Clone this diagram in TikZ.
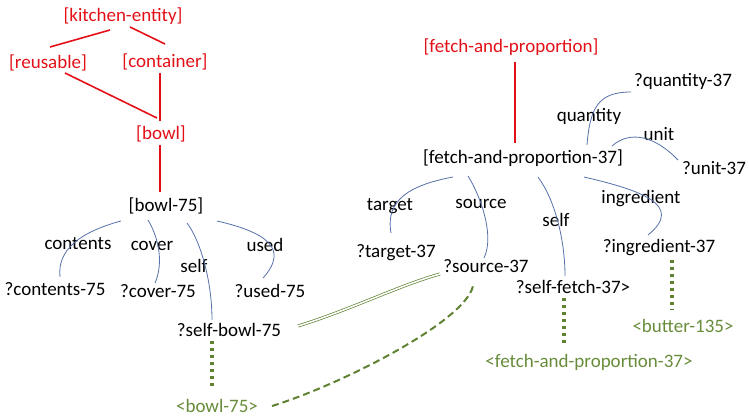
\documentclass[tikz,border=0pt]{standalone}
\usepackage{fontspec}
\setmainfont{Carlito}
\usetikzlibrary{calc}
\definecolor{cred}{RGB}{228,16,24}
\definecolor{cblue}{RGB}{86,112,168}
\definecolor{cgreen}{RGB}{104,140,58}
\definecolor{cgdark}{RGB}{96,130,50}
\begin{document}
\begin{tikzpicture}[x=1pt,y=-1pt,
  lbl/.style={inner sep=0pt,font=\fontsize{19}{22}\selectfont},
  cat/.style={lbl,text=cred},
  inst/.style={lbl,text=black},
  gval/.style={lbl,text=cgreen},
  isa/.style={draw=cred,line width=1.6pt},
  role/.style={draw=cblue,line width=0.8pt},
  bind/.style={draw=cgdark,line width=3.2pt,dash pattern=on 3pt off 4pt},
  coref/.style={draw=cgdark,line width=2pt,dash pattern=on 7pt off 4pt},
  same/.style={draw=cgdark,line width=0.7pt,double=white,double distance=1.6pt}]
\useasboundingbox (0,0) rectangle (749,419);
% categories
\node[cat] (ke) at (123,16) {[kitchen-entity]};
\node[cat] (reu) at (48,63) {[reusable]};
\node[cat] (con) at (165,62) {[container]};
\node[cat] (bowl) at (161,134) {[bowl]};
\node[cat] (fp) at (511,47) {[fetch-and-proportion]};
% instances
\node[inst] (b75) at (166,206) {[bowl-75]};
\node[inst] (cont) at (55,289) {?contents-75};
\node[inst] (cov) at (158,291) {?cover-75};
\node[inst] (used) at (270,291) {?used-75};
\node[inst] (sb) at (229,330) {?self-bowl-75};
\node[inst] (fp37) at (523,158) {[fetch-and-proportion-37]};
\node[inst] (q37) at (683,81) {?quantity-37};
\node[inst] (u37) at (714,168) {?unit-37};
\node[inst] (t37) at (396,253) {?target-37};
\node[inst] (s37) at (486,266) {?source-37};
\node[inst] (sf) at (573,287) {?self-fetch-37>};
\node[inst] (ing) at (659,248) {?ingredient-37};
% role labels
\node[inst] (lcont) at (78,244) {contents};
\node[inst] (lcov) at (152,246) {cover};
\node[inst] (lself) at (194,266) {self};
\node[inst] (lused) at (265,245) {used};
\node[inst] (lq) at (589,116) {quantity};
\node[inst] (lu) at (659,134) {unit};
\node[inst] (lt) at (390,206) {target};
\node[inst] (ls) at (481,204) {source};
\node[inst] (lsf) at (556,220) {self};
\node[inst] (ling) at (641,199) {ingredient};
% green values
\node[gval] (gb) at (217,406) {<bowl-75>};
\node[gval] (gfp) at (589,362) {<fetch-and-proportion-37>};
\node[gval] (bt) at (683,326) {<butter-135>};
% isa lines
\draw[isa] ($(ke)+(-13,14)$) -- ($(reu)+(2,-16)$);
\draw[isa] ($(ke)+(7,11)$) -- ($(con)+(0,-18)$);
\draw[isa] ($(reu)+(17,10)$) -- ($(bowl)+(-4,-16)$);
\draw[isa] ($(con)+(-5,11)$) -- ($(bowl)+(-1,-13)$);
\draw[isa] ($(bowl)+(-1,11)$) -- ($(b75)+(-6,-14)$);
\draw[isa] ($(fp)+(4,15)$) -- ($(fp37)+(-8,-15)$);
% role lines bowl
\draw[role] ($(b75)+(-45,15)$) .. controls (80,232) and (57,250) .. ($(cont)+(5,-12)$);
\draw[role] ($(b75)+(-18,14)$) .. controls (160,240) and (163,265) .. ($(cov)+(-3,-8)$);
\draw[role] ($(b75)+(21,17)$) .. controls (200,240) and (212,280) .. ($(sb)+(-17,-10)$);
\draw[role] ($(b75)+(51,15)$) .. controls (265,232) and (290,248) .. ($(used)+(-7,-13)$);
% role lines fetch
\draw[role] ($(fp37)+(64,-13)$) .. controls (590,108) and (598,92) .. ($(q37)+(-52,11)$);
\draw[role] ($(fp37)+(89,-12)$) .. controls (630,130) and (655,136) .. ($(u37)+(-36,-8)$);
\draw[role] ($(fp37)+(-70,19)$) .. controls (410,185) and (385,200) .. ($(t37)+(-5,-20)$);
\draw[role] ($(fp37)+(-55,18)$) .. controls (480,195) and (495,235) .. ($(s37)+(-2,-8)$);
\draw[role] ($(fp37)+(15,19)$) .. controls (555,200) and (565,240) .. ($(sf)+(-8,-11)$);
\draw[role] ($(fp37)+(61,19)$) .. controls (640,190) and (685,205) .. ($(ing)+(-11,-13)$);
% green bindings
\draw[bind] ($(sb)+(-17,11)$) -- ($(gb)+(-5,-17)$);
\draw[bind] ($(sf)+(-9,11)$) -- ($(gfp)+(-25,-16)$);
\draw[bind] ($(ing)+(13,12)$) -- ($(bt)+(-11,-16)$);
\draw[coref] ($(gb)+(55,0)$) .. controls (340,385) and (465,322) .. ($(s37)+(-13,20)$);
\draw[same] ($(sb)+(69,-4)$) .. controls (350,310) and (400,285) .. ($(s37)+(-46,8)$);
\end{tikzpicture}
\end{document}
